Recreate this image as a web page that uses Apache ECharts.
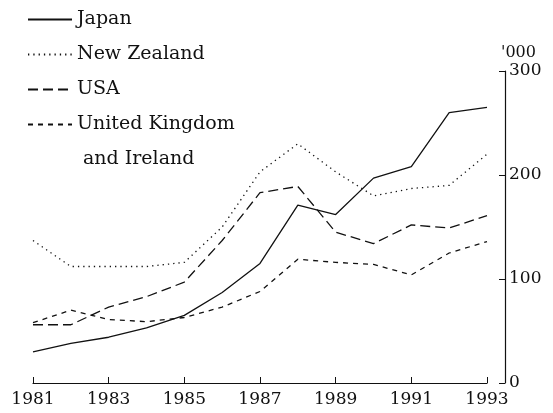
<!DOCTYPE html>
<html>
<head>
<meta charset="utf-8">
<script src="https://cdn.jsdelivr.net/npm/echarts@6/dist/echarts.min.js"></script>
<style>
  html, body { margin: 0; padding: 0; background: #fff; }
  #chart { width: 553px; height: 413px; }
</style>
</head>
<body>
<div id="chart"></div>
<script>
var years = ['1981', '1982', '1983', '1984', '1985', '1986', '1987', '1988', '1989', '1990', '1991', '1992', '1993'];
var japan = [30, 38, 44, 53, 65, 87, 115, 171, 162, 197, 208, 260, 265];
var newZealand = [137, 112, 112, 112, 116, 150, 203, 230, 203, 180, 187, 190, 220];
var usa = [56, 56, 73, 83, 97, 137, 183, 189, 145, 134, 152, 149, 161];
var ukIreland = [58, 70, 61, 59, 63, 73, 88, 119, 116, 114, 104, 125, 136];

var FONT = 'DejaVu Serif';
var INK = '#111';

var chartDom = document.getElementById('chart');
var myChart = echarts.init(chartDom);

function lineSeries(name, data, dash) {
    return {
        name: name,
        type: 'line',
        data: data,
        symbol: 'none',
        animation: false,
        itemStyle: { color: INK },
        lineStyle: { color: INK, width: 1.3, type: dash }
    };
}

var option = {
    backgroundColor: '#fff',
    textStyle: { fontFamily: FONT, color: INK },
    legend: {
        orient: 'vertical',
        left: 22,
        top: 5,
        itemWidth: 44,
        itemHeight: 14,
        itemGap: 16,
        selectedMode: false,
        itemStyle: { opacity: 0 },
        textStyle: { fontFamily: FONT, fontSize: 19, color: INK },
        formatter: function (name) {
            return name === 'United Kingdom and Ireland' ? 'United Kingdom' : name;
        },
        data: ['Japan', 'New Zealand', 'USA', 'United Kingdom and Ireland']
    },
    graphic: [{
        type: 'text',
        left: 83,
        top: 150,
        style: { text: 'and Ireland', font: '19px "DejaVu Serif"', fill: INK }
    }],
    grid: { left: 33, right: 66, top: 71, bottom: 30 },
    xAxis: {
        type: 'category',
        data: years,
        boundaryGap: false,
        axisLine: { lineStyle: { color: INK, width: 1.2 } },
        axisTick: { inside: true, length: 6, interval: 1, lineStyle: { color: INK } },
        axisLabel: { interval: 1, fontFamily: FONT, fontSize: 17, color: INK, margin: 8 }
    },
    yAxis: {
        type: 'value',
        position: 'right',
        offset: 18,
        min: 0,
        max: 300,
        interval: 100,
        name: "'000",
        nameLocation: 'end',
        nameGap: 10,
        nameTextStyle: { fontFamily: FONT, fontSize: 16, color: INK, align: 'left', padding: [0, 0, 0, -4] },
        splitLine: { show: false },
        axisLine: { show: true, lineStyle: { color: INK, width: 1.2 } },
        axisTick: { show: true, inside: true, length: 6, lineStyle: { color: INK } },
        axisLabel: { fontFamily: FONT, fontSize: 17, color: INK, margin: 4 }
    },
    series: [
        lineSeries('Japan', japan, 'solid'),
        lineSeries('New Zealand', newZealand, [1.3, 4]),
        lineSeries('USA', usa, [10, 5]),
        lineSeries('United Kingdom and Ireland', ukIreland, [5, 5])
    ]
};

myChart.setOption(option);
</script>
</body>
</html>
